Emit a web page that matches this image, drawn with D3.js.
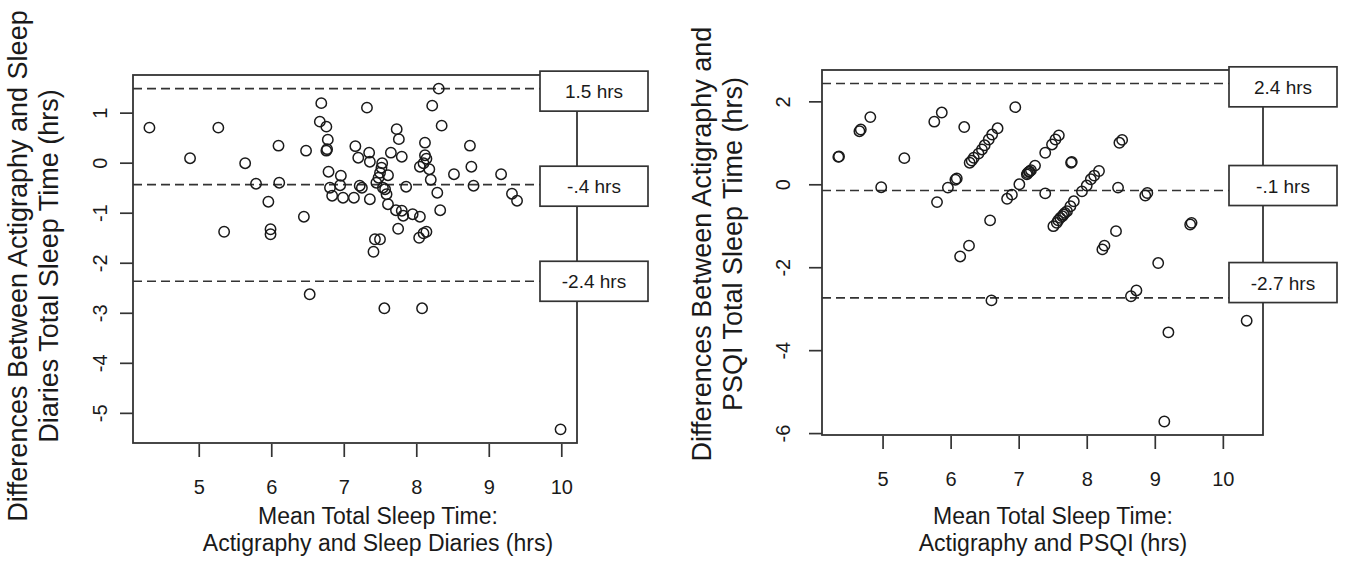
<!DOCTYPE html>
<html lang="en">
<head>
<meta charset="UTF-8">
<title>Actigraphy vs Sleep Diaries / PSQI</title>
<script src="https://d3js.org/d3.v7.min.js"></script>
<style>
  body { margin: 0; background: #fff; }
  svg { display: block; font-family: "Liberation Sans", Arial, sans-serif; }
  .frame { fill: none; stroke: #333; stroke-width: 1.8; }
  .loa { stroke: #333; stroke-width: 1.7; stroke-dasharray: 9 5; }
  .pt { fill: none; stroke: #1a1a1a; stroke-width: 1.5; }
  .lab rect { fill: #fff; stroke: #333; stroke-width: 1.7; }
  .lab text { font-size: 19px; fill: #1a1a1a; }
  .axis line { stroke: #333; stroke-width: 1.7; }
  .axis text { font-size: 20px; fill: #1a1a1a; font-family: "Liberation Sans", Arial, sans-serif; }
  .title { font-size: 23px; fill: #1a1a1a; }
  .ytitle { font-size: 27px; fill: #1a1a1a; }
</style>
</head>
<body>
<svg width="1348" height="563"></svg>
<script>
// ---- left panel: actigraphy vs sleep diaries ----
const diaryMean = [4.32, 5.27, 4.88, 5.64, 6.10, 6.48, 6.69, 6.67, 6.76, 6.78, 6.77, 6.76, 7.16, 7.20,
  5.79, 6.11, 6.79, 6.96, 6.95, 6.81, 6.84, 6.99, 7.14, 7.22, 5.96, 6.45, 5.35, 5.99, 5.99,
  8.31, 7.32, 8.22, 8.35, 7.73, 7.76, 7.35, 7.36, 7.65, 7.80, 8.12, 8.12, 8.14, 8.10, 8.05,
  8.18, 8.20, 8.29, 8.33, 8.74, 8.76, 8.79, 8.52, 9.17, 9.32, 9.39, 7.53, 7.52, 7.50, 7.48,
  7.61, 7.45, 7.54, 7.57, 7.59, 7.25, 7.36, 7.86, 7.61, 7.72, 7.80, 7.82, 7.95, 8.05, 7.75,
  8.14, 8.10, 8.04, 7.43, 7.50, 7.41, 6.53, 7.56, 8.08, 9.99];
const diaryDiff = [0.70, 0.70, 0.09, -0.01, 0.34, 0.24, 1.19, 0.82, 0.72, 0.46, 0.27, 0.24, 0.33, 0.10,
  -0.42, -0.40, -0.18, -0.26, -0.45, -0.50, -0.66, -0.70, -0.70, -0.46, -0.78, -1.08, -1.38, -1.33, -1.43,
  1.48, 1.10, 1.14, 0.74, 0.67, 0.47, 0.20, 0.02, 0.20, 0.12, 0.40, 0.15, 0.08, -0.01, -0.08,
  -0.13, -0.34, -0.60, -0.95, 0.34, -0.08, -0.46, -0.23, -0.23, -0.62, -0.76, -0.01, -0.10, -0.20, -0.30,
  -0.25, -0.40, -0.50, -0.53, -0.63, -0.50, -0.73, -0.48, -0.83, -0.95, -0.96, -1.06, -1.03, -1.08, -1.32,
  -1.38, -1.41, -1.50, -1.53, -1.53, -1.78, -2.63, -2.91, -2.91, -5.33];
const diaryLimits = [1.48, -0.44, -2.37];
const diaryLimitText = ["1.5 hrs", "-.4 hrs", "-2.4 hrs"];
const diaryLabelAt = [1.43, -0.47, -2.37];
const diaryXTicks = [5, 6, 7, 8, 9, 10];
const diaryYTicks = [1, 0, -1, -2, -3, -4, -5];

// ---- right panel: actigraphy vs PSQI ----
const psqiMean = [4.35, 4.36, 4.66, 4.68, 4.82, 5.32, 4.98, 5.76, 5.87, 6.20, 5.80, 5.96, 6.09, 6.07,
  6.28, 6.31, 6.34, 6.41, 6.46, 6.50, 6.56, 6.61, 6.69, 6.95, 6.58, 6.27, 6.14, 6.83, 6.90,
  7.01, 7.12, 7.15, 7.18, 7.24, 7.13, 7.16, 7.39, 7.49, 7.54, 7.59, 7.77, 7.78, 7.39,
  7.51, 7.56, 7.61, 7.66, 7.71, 7.76, 7.81, 7.93, 8.00, 8.06, 8.11, 8.18, 7.58, 7.68, 7.64,
  8.46, 8.48, 8.52, 8.86, 8.89, 8.43, 8.23, 8.26, 9.52, 9.54, 9.05, 6.60, 8.65, 8.73,
  9.20, 9.14, 10.35];
const psqiDiff = [0.66, 0.67, 1.28, 1.32, 1.62, 0.63, -0.07, 1.51, 1.73, 1.38, -0.43, -0.08, 0.14, 0.11,
  0.52, 0.57, 0.64, 0.74, 0.84, 0.94, 1.08, 1.20, 1.35, 1.86, -0.87, -1.48, -1.74, -0.35, -0.25,
  0.00, 0.24, 0.30, 0.34, 0.45, 0.27, 0.31, 0.76, 0.96, 1.08, 1.18, 0.52, 0.54, -0.22,
  -1.01, -0.93, -0.81, -0.73, -0.65, -0.53, -0.41, -0.17, -0.03, 0.12, 0.21, 0.32, -0.87, -0.69, -0.77,
  -0.08, 1.00, 1.07, -0.27, -0.21, -1.13, -1.57, -1.48, -0.97, -0.93, -1.90, -2.80, -2.70, -2.56,
  -3.57, -5.72, -3.29];
const psqiLimits = [2.43, -0.15, -2.74];
const psqiLimitText = ["2.4 hrs", "-.1 hrs", "-2.7 hrs"];
const psqiLabelAt = [2.35, -0.03, -2.37];
const psqiXTicks = [5, 6, 7, 8, 9, 10];
const psqiYTicks = [2, 0, -2, -4, -6];

const svg = d3.select("svg");

// R-style limits: data range padded by 4% each side
function padded(vals) {
  const [lo, hi] = d3.extent(vals);
  const p = (hi - lo) * 0.04;
  return [lo - p, hi + p];
}

const panels = [
  {
    xs: diaryMean, ys: diaryDiff, limits: diaryLimits, limitText: diaryLimitText, labelAt: diaryLabelAt,
    xTicks: diaryXTicks, yTicks: diaryYTicks,
    box: { left: 133, right: 577, top: 75, bottom: 443 },
    labelX: 540,
    yTitle: ["Differences Between Actigraphy and Sleep", "Diaries Total Sleep Time (hrs)"],
    yTitleX: [27, 58], yTitleY: 266, yTickX: 107,
    xTitle: ["Mean Total Sleep Time:", "Actigraphy and Sleep Diaries (hrs)"],
    xTitleX: 378
  },
  {
    xs: psqiMean, ys: psqiDiff, limits: psqiLimits, limitText: psqiLimitText, labelAt: psqiLabelAt,
    xTicks: psqiXTicks, yTicks: psqiYTicks,
    box: { left: 822, right: 1263, top: 70, bottom: 435 },
    labelX: 1229,
    yTitle: ["Differences Between Actigraphy and", "PSQI Total Sleep Time  (hrs)"],
    yTitleX: [711, 742], yTitleY: 244, yTickX: 790,
    xTitle: ["Mean Total Sleep Time:", "Actigraphy and PSQI (hrs)"],
    xTitleX: 1053
  }
];

panels.forEach(p => {
  const b = p.box;
  const x = d3.scaleLinear().domain(padded(p.xs)).range([b.left, b.right]);
  const y = d3.scaleLinear().domain(padded(p.ys.concat(p.limits))).range([b.bottom, b.top]);

  const g = svg.append("g");

  // limits of agreement
  g.selectAll(".loa")
    .data(p.limits)
    .join("line")
    .attr("class", "loa")
    .attr("x1", b.left).attr("x2", b.right)
    .attr("y1", d => y(d)).attr("y2", d => y(d));

  // points
  g.selectAll(".pt")
    .data(d3.zip(p.xs, p.ys))
    .join("circle")
    .attr("class", "pt")
    .attr("cx", d => x(d[0]))
    .attr("cy", d => y(d[1]))
    .attr("r", 5.2);

  // frame
  g.append("rect")
    .attr("class", "frame")
    .attr("x", b.left).attr("y", b.top)
    .attr("width", b.right - b.left).attr("height", b.bottom - b.top);

  // x axis
  const xa = g.append("g")
    .attr("class", "axis")
    .attr("transform", `translate(0,${b.bottom + 1})`)
    .call(d3.axisBottom(x).tickValues(p.xTicks).tickFormat(d => String(d)).tickSize(13).tickSizeOuter(0));
  xa.select(".domain").remove();
  xa.selectAll("text").attr("y", 50).attr("dy", null);

  // y axis, labels parallel to the axis
  const ya = g.append("g")
    .attr("class", "axis")
    .attr("transform", `translate(${b.left},0)`)
    .call(d3.axisLeft(y).tickValues(p.yTicks).tickFormat(d => String(d)).tickSize(13).tickSizeOuter(0));
  ya.select(".domain").remove();
  ya.selectAll("text")
    .attr("x", null).attr("dy", null)
    .attr("text-anchor", "middle")
    .attr("transform", `translate(${p.yTickX - b.left},0) rotate(-90)`);

  // limit labels
  const lab = g.selectAll(".lab")
    .data(p.limitText.map((t, i) => ({ t: t, at: p.labelAt[i] })))
    .join("g")
    .attr("class", "lab")
    .attr("transform", d => `translate(${p.labelX},${y(d.at)})`);
  lab.append("rect").attr("x", 0).attr("y", -20).attr("width", 108).attr("height", 40);
  lab.append("text").attr("x", 54).attr("y", 7).attr("text-anchor", "middle").text(d => d.t);

  // axis titles
  g.append("text")
    .attr("class", "title")
    .attr("text-anchor", "middle")
    .selectAll("tspan")
    .data(p.xTitle)
    .join("tspan")
    .attr("x", p.xTitleX)
    .attr("y", (d, i) => 524 + i * 27)
    .text(d => d);

  p.yTitle.forEach((t, i) => {
    g.append("text")
      .attr("class", "ytitle")
      .attr("text-anchor", "middle")
      .attr("transform", `translate(${p.yTitleX[i]},${p.yTitleY}) rotate(-90)`)
      .text(t);
  });
});
</script>
</body>
</html>
